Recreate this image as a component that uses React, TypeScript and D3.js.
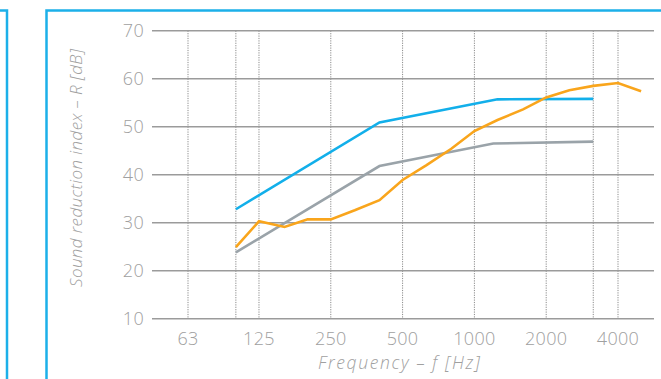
import React, { useRef, useEffect } from "react";
import * as d3 from "d3";

// axis ticks
const freqLabels = [63, 125, 250, 500, 1000, 2000, 4000];
const gridFreqs = [63, 100, 125, 250, 500, 1000, 2000, 3150, 4000];
const dbTicks = [10, 20, 30, 40, 50, 60, 70];

// series (Hz / dB)
const blueFreq = [100, 400, 1250, 3150];
const blueDb = [32.8, 50.9, 55.7, 55.8];

const greyFreq = [100, 400, 1200, 3150];
const greyDb = [23.8, 41.8, 46.5, 46.9];

const orangeFreq = [
  100, 125, 160, 200, 250, 315, 400, 500, 630, 800, 1000, 1250, 1600, 2000,
  2500, 3150, 4000, 5000,
];
const orangeDb = [
  24.9, 30.3, 29.1, 30.7, 30.7, 32.6, 34.7, 38.9, 42.0, 45.4, 49.1, 51.4, 53.6,
  56.1, 57.6, 58.5, 59.1, 57.4,
];

const FONT = "'Open Sans', Lato, sans-serif";
const TEXT = "#a0a0a0";
const FRAME = "#1cb0e9";

function App() {
  const svgRef = useRef<SVGSVGElement>(null);

  useEffect(() => {
    const w = 661;
    const h = 379;
    const svg = d3.select(svgRef.current).attr("width", w).attr("height", h);
    svg.selectAll("*").remove();

    const x = d3.scaleLog().domain([63, 4000]).range([188, 618]);
    const y = d3.scaleLinear().domain([10, 70]).range([318.7, 30.7]);
    const gridLeft = 152;
    const gridRight = 654;

    // frames
    svg
      .append("path")
      .attr("d", `M0,10.5H7V${h}`)
      .attr("fill", "none")
      .attr("stroke", FRAME)
      .attr("stroke-width", 2.5);
    svg
      .append("path")
      .attr("d", `M46.5,${h}V10.5H${w}`)
      .attr("fill", "none")
      .attr("stroke", FRAME)
      .attr("stroke-width", 2.5);

    // vertical dotted grid
    svg
      .append("g")
      .selectAll("line")
      .data(gridFreqs)
      .join("line")
      .attr("x1", (d) => x(d))
      .attr("x2", (d) => x(d))
      .attr("y1", y(70))
      .attr("y2", y(10))
      .attr("stroke", "#8a8a8a")
      .attr("stroke-width", 1)
      .attr("stroke-dasharray", "1.2,1.2");

    // horizontal grid
    svg
      .append("g")
      .selectAll("line")
      .data(dbTicks)
      .join("line")
      .attr("x1", gridLeft)
      .attr("x2", gridRight)
      .attr("y1", (d) => y(d))
      .attr("y2", (d) => y(d))
      .attr("stroke", "#9b9b9b")
      .attr("stroke-width", 1.6);

    // y tick labels
    svg
      .append("g")
      .selectAll("text")
      .data(dbTicks)
      .join("text")
      .attr("x", 144)
      .attr("y", (d) => y(d))
      .attr("dy", "0.36em")
      .attr("text-anchor", "end")
      .attr("font-family", FONT)
      .attr("font-weight", 300)
      .attr("font-size", 18)
      .attr("letter-spacing", 0.3)
      .attr("fill", TEXT)
      .text((d) => d);

    // x tick labels
    svg
      .append("g")
      .selectAll("text")
      .data(freqLabels)
      .join("text")
      .attr("x", (d) => x(d))
      .attr("y", 345)
      .attr("text-anchor", "middle")
      .attr("font-family", FONT)
      .attr("font-weight", 300)
      .attr("font-size", 18)
      .attr("letter-spacing", 0.3)
      .attr("fill", TEXT)
      .text((d) => d);

    // axis titles
    svg
      .append("text")
      .attr("x", 399)
      .attr("y", 369)
      .attr("text-anchor", "middle")
      .attr("font-family", FONT)
      .attr("font-weight", 300)
      .attr("font-style", "italic")
      .attr("font-size", 17.5)
      .attr("textLength", 162)
      .attr("fill", TEXT)
      .text("Frequency – f [Hz]");

    svg
      .append("text")
      .attr("transform", "translate(82,168) rotate(-90)")
      .attr("text-anchor", "middle")
      .attr("font-family", FONT)
      .attr("font-weight", 300)
      .attr("font-style", "italic")
      .attr("font-size", 17)
      .attr("textLength", 238)
      .attr("fill", TEXT)
      .text("Sound reduction index – R [dB]");

    const line = d3
      .line<[number, number]>()
      .x((d) => x(d[0]))
      .y((d) => y(d[1]));

    const series: [number[], number[], string][] = [
      [greyFreq, greyDb, "#9aa3a9"],
      [blueFreq, blueDb, "#12afea"],
      [orangeFreq, orangeDb, "#f9a51c"],
    ];
    series.forEach(([f, v, c]) => {
      svg
        .append("path")
        .datum(f.map((d, i) => [d, v[i]] as [number, number]))
        .attr("fill", "none")
        .attr("stroke", c)
        .attr("stroke-width", 2.6)
        .attr("stroke-linejoin", "miter")
        .attr("d", line);
    });
  }, []);

  return (
    <div style={{ position: "fixed", left: 0, top: 0, width: 661, height: 379, background: "#fff" }}>
      <svg ref={svgRef}></svg>
    </div>
  );
}

export default App;
